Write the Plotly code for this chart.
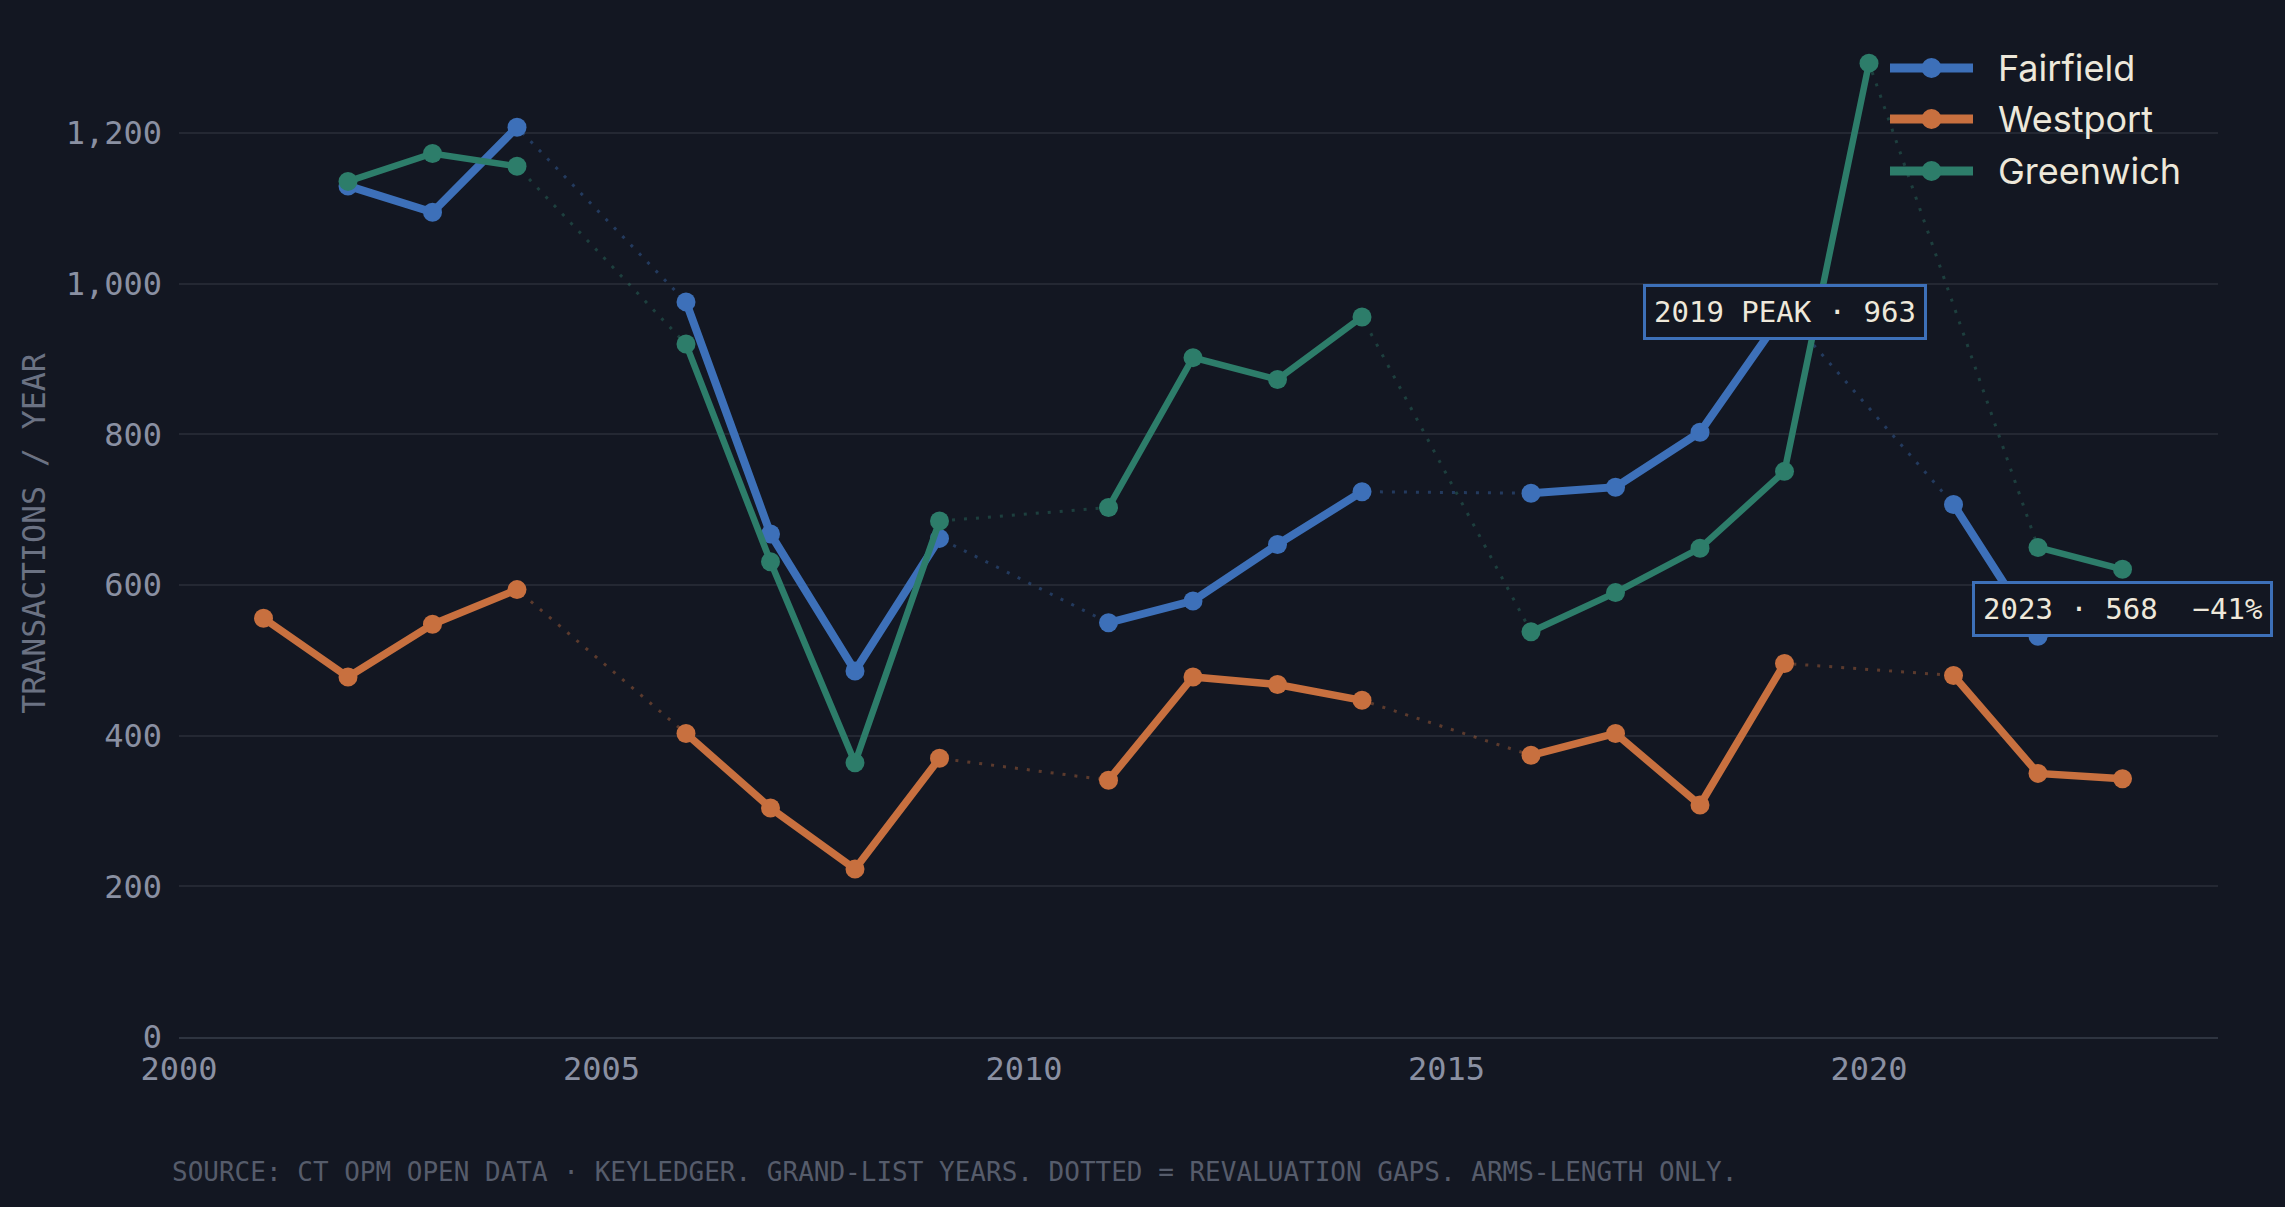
import plotly.graph_objects as go

# ---------------- data ----------------
years = list(range(2000, 2024))

fairfield = [None, None, 1130, 1095, 1208, None, 976, 668, 486, 662, None,
             550, 579, 654, 724, None, 722, 730, 803, 963, None, 707, 532, 568]
westport = [None, 556, 478, 548, 594, None, 403, 304, 223, 370, None,
            341, 478, 468, 447, None, 374, 403, 308, 496, None, 480, 350, 343]
greenwich = [None, None, 1136, 1173, 1156, None, 920, 631, 364, 685, None,
             703, 902, 873, 956, None, 538, 590, 649, 751, 1293, None, 650, 621]

series_names = ["Fairfield", "Westport", "Greenwich"]
series_values = [fairfield, westport, greenwich]
series_colors = ["#3D70B9", "#C8703F", "#2D7D6A"]
series_dots = ["rgba(61,112,185,0.40)", "rgba(200,112,63,0.40)", "rgba(45,125,106,0.40)"]
series_widths = [8, 7.5, 6.5]

y_ticks = [0, 200, 400, 600, 800, 1000, 1200]
x_ticks = [2000, 2005, 2010, 2015, 2020]

peak_year, peak_val = 2019, 963
last_year, last_val = 2023, 568
change_pct = round((last_val - peak_val) / peak_val * 100)

# ---------------- layout geometry ----------------
W, H = 2285, 1207
ML, MR, MT, MB = 179, 67, 30, 170
PW, PH = W - ML - MR, H - MT - MB
X_RANGE = [2000, 2024.13]
Y_RANGE = [0, 1337]

def px_to_paper_x(px):
    return (px - ML) / PW

def px_to_paper_y(py):
    return (H - MB - py) / PH

BG = "#131722"
MONO = "DejaVu Sans Mono, Liberation Mono, monospace"
SANS = "Inter, Noto Sans, sans-serif"

fig = go.Figure()

# dotted revaluation-gap connectors (underneath)
for name, vals, dcol in zip(series_names, series_values, series_dots):
    fig.add_trace(go.Scatter(
        x=years, y=vals, mode="lines", connectgaps=True,
        line=dict(color=dcol, width=3, dash="3px,9px"),
        showlegend=False, hoverinfo="skip"))

# solid series
for name, vals, col, w in zip(series_names, series_values, series_colors, series_widths):
    fig.add_trace(go.Scatter(
        x=years, y=vals, mode="lines+markers", name=name, connectgaps=False,
        line=dict(color=col, width=w),
        marker=dict(color=col, size=19),
        showlegend=False))

annotations = []
# callouts centred on points
annotations.append(dict(
    x=peak_year, y=peak_val, xref="x", yref="y", showarrow=False,
    text=f"{peak_year} PEAK · {peak_val}",
    font=dict(family=MONO, size=29, color="#EEE8DA"),
    bgcolor=BG, bordercolor="#3D70B9", borderwidth=3, borderpad=8))
annotations.append(dict(
    x=last_year, y=last_val, xref="x", yref="y", showarrow=False,
    text=f"{last_year} · {last_val}\u00a0\u00a0\u2212{abs(change_pct)}%",
    font=dict(family=MONO, size=29, color="#EEE8DA"),
    bgcolor=BG, bordercolor="#3D70B9", borderwidth=3, borderpad=8))

# source note
annotations.append(dict(
    x=px_to_paper_x(170), y=px_to_paper_y(1172), xref="paper", yref="paper",
    xanchor="left", yanchor="middle", showarrow=False,
    text="SOURCE: CT OPM OPEN DATA · KEYLEDGER. GRAND-LIST YEARS. DOTTED = REVALUATION GAPS. ARMS-LENGTH ONLY.",
    font=dict(family=MONO, size=26, color="#565C6B")))

# custom legend
shapes = []
leg_rows = [68, 119, 171]
for name, col, row in zip(series_names, series_colors, leg_rows):
    yy = px_to_paper_y(row)
    shapes.append(dict(type="line", xref="paper", yref="paper",
                       x0=px_to_paper_x(1890), x1=px_to_paper_x(1973), y0=yy, y1=yy,
                       line=dict(color=col, width=9)))
    shapes.append(dict(type="circle", xref="paper", yref="paper",
                       xsizemode="pixel", ysizemode="pixel",
                       xanchor=px_to_paper_x(1931.5), yanchor=yy,
                       x0=-10, x1=10, y0=-10, y1=10,
                       fillcolor=col, line=dict(width=0)))
    annotations.append(dict(
        x=px_to_paper_x(1996), y=yy, xref="paper", yref="paper",
        xanchor="left", yanchor="middle", showarrow=False, text=name,
        font=dict(family=SANS, size=36, color="#EDE8DA")))

fig.update_layout(
    width=W, height=H,
    margin=dict(l=ML, r=MR, t=MT, b=MB, autoexpand=False),
    paper_bgcolor=BG, plot_bgcolor=BG,
    showlegend=False,
    annotations=annotations, shapes=shapes,
    xaxis=dict(range=X_RANGE, tickvals=x_ticks, tickformat="d",
               showgrid=False, zeroline=False, showline=True,
               linecolor="#2E3440", linewidth=2,
               ticks="", ticklabelstandoff=3,
               tickfont=dict(family=MONO, size=32, color="#8A90A2")),
    yaxis=dict(range=Y_RANGE, tickvals=y_ticks, tickformat=",d",
               showgrid=True, gridcolor="#242833", gridwidth=2,
               zeroline=False, showline=False,
               ticks="", ticklabelstandoff=16,
               tickfont=dict(family=MONO, size=32, color="#8A90A2"),
               title=dict(text="TRANSACTIONS / YEAR", standoff=10,
                          font=dict(family=MONO, size=31.5, color="#6B7283"))),
)

fig.write_html("out.html")
